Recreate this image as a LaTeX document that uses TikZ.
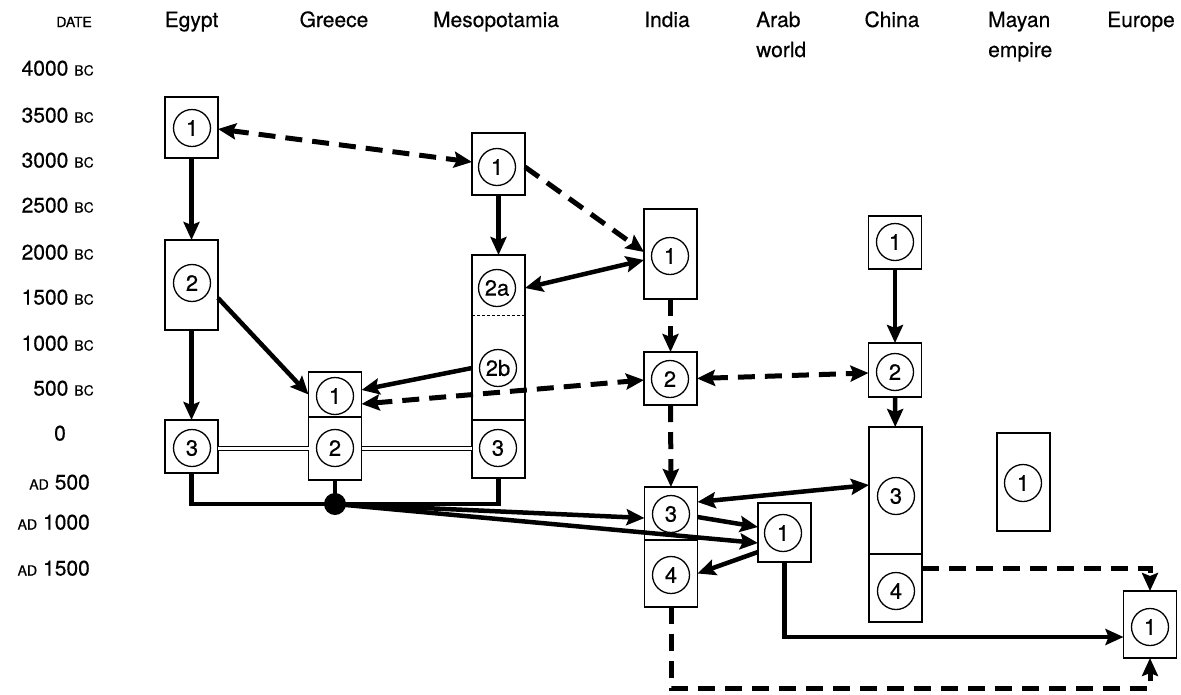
\documentclass[tikz,border=0pt]{standalone}
\usepackage{fontspec}
\setmainfont{TeX Gyre Heros}[FakeBold=0.5]
\usetikzlibrary{arrows.meta}
\newcommand\dBC{\hspace{6pt}{\fontsize{14}{14}\selectfont BC}}
\newcommand\dAD{{\fontsize{14}{14}\selectfont AD}\hspace{6pt}}
\begin{document}
\begin{tikzpicture}[x=1pt,y=-1pt,
 box/.style={draw,line width=1.3pt,minimum width=53pt,inner sep=0pt,outer sep=0pt},
 num/.style={draw,circle,line width=1.3pt,minimum size=37pt,inner sep=0pt,font=\fontsize{22}{22}\selectfont},
 hdr/.style={font=\fontsize{21}{21}\selectfont,inner sep=0pt},
 dlab/.style={font=\fontsize{21}{21}\selectfont,inner sep=0pt,anchor=base east},
 sol/.style={line width=4.5pt},
 dsh/.style={line width=5pt,dash pattern=on 17pt off 10pt},
 dbl/.style={line width=1.3pt,double distance=2.6pt},
 >={Stealth[length=18pt,width=16pt,inset=3pt]}]
\useasboundingbox (0,0) rectangle (1181,694);

% headers
\node[inner sep=0pt,anchor=base east,font=\fontsize{14}{14}\selectfont] (hDate) at (92,27) {DATE};
\node[hdr,anchor=base] (hEgypt) at (191.5,27) {Egypt};
\node[hdr,anchor=base] (hGreece) at (334,27) {Greece};
\node[hdr,anchor=base] (hMeso) at (496,27) {Mesopotamia};
\node[hdr,anchor=base] (hIndia) at (667,27) {India};
\node[hdr,anchor=base west] (hArab) at (756,27) {Arab};
\node[hdr,anchor=base west] (hWorld) at (756,57) {world};
\node[hdr,anchor=base] (hChina) at (892,27) {China};
\node[hdr,anchor=base west] (hMayan) at (988,27) {Mayan};
\node[hdr,anchor=base west] (hEmpire) at (988,57) {empire};
\node[hdr,anchor=base] (hEurope) at (1141,27) {Europe};

% dates
\node[dlab] (d1) at (94,75.5) {4000\dBC};
\node[dlab] (d2) at (94,122.5) {3500\dBC};
\node[dlab] (d3) at (94,167.5) {3000\dBC};
\node[dlab] (d4) at (94,212.5) {2500\dBC};
\node[dlab] (d5) at (94,259.5) {2000\dBC};
\node[dlab] (d6) at (94,304.5) {1500\dBC};
\node[dlab] (d7) at (94,350.5) {1000\dBC};
\node[dlab] (d8) at (94,395.5) {500\dBC};
\node[dlab,anchor=base] (d9) at (60,440.5) {0};
\node[dlab] (d10) at (90,489.5) {\dAD500};
\node[dlab] (d11) at (90,529.5) {\dAD1000};
\node[dlab] (d12) at (90,575.5) {\dAD1500};

% boxes
\node[box,minimum height=61pt] (e1) at (191.5,127.5) {};
\node[box,minimum height=90pt] (e2) at (191.5,285) {};
\node[box,minimum height=53pt] (e3) at (191.5,446.5) {};
\node[box,minimum height=45pt] (g1) at (335,394.5) {};
\node[box,minimum height=63pt] (g2) at (335,448.5) {};
\node[box,minimum height=62pt] (m1) at (498.5,164) {};
\node[box,minimum height=165pt] (m2) at (498.5,337.5) {};
\node[box,minimum height=58pt] (m3) at (498.5,449) {};
\draw[line width=1pt,dash pattern=on 3pt off 2pt] ([yshift=-60pt]m2.north west) -- ([yshift=-60pt]m2.north east);
\node[box,minimum height=90pt] (i1) at (670.5,254) {};
\node[box,minimum height=53pt] (i2) at (670.5,378.5) {};
\node[box,minimum height=53pt] (i3) at (671,513.5) {};
\node[box,minimum height=67pt] (i4) at (671,573.5) {};
\node[box,minimum height=59pt] (a1) at (784.5,532.5) {};
\node[box,minimum height=53pt] (c1) at (895,242.5) {};
\node[box,minimum height=54pt] (c2) at (895,370) {};
\node[box,minimum height=127pt] (c3) at (895.5,490.5) {};
\node[box,minimum height=68pt] (c4) at (895.5,588) {};
\node[box,minimum height=98pt] (y1) at (1023.5,482) {};
\node[box,minimum height=67pt] (eu) at (1150,624.5) {};

% numbers
\node[num] (e1n) at (192,128) {1};
\node[num] (e2n) at (192,283) {2};
\node[num] (e3n) at (192,448) {3};
\node[num] (g1n) at (335,396) {1};
\node[num] (g2n) at (335,448) {2};
\node[num] (m1n) at (497,167) {1};
\node[num] (m2a) at (497,288) {2a};
\node[num] (m2b) at (498,368) {2b};
\node[num] (m3n) at (498,448) {3};
\node[num] (i1n) at (670,256) {1};
\node[num] (i2n) at (670,379) {2};
\node[num] (i3n) at (671,514) {3};
\node[num] (i4n) at (671,575) {4};
\node[num] (a1n) at (783,533) {1};
\node[num] (c1n) at (895,242) {1};
\node[num] (c2n) at (895,372) {2};
\node[num] (c3n) at (896,496) {3};
\node[num] (c4n) at (896,591) {4};
\node[num] (y1n) at (1023,483) {1};
\node[num] (eun) at (1150,627) {1};

% connectors
\draw[dsh,<->] ([yshift=-1.5pt]e1.east) -- ([yshift=2pt]m1.west);
\draw[sol,->] (e1) -- (e2);
\draw[sol,->] (e2) -- (e3);
\draw[sol,->] ([yshift=-13pt]e2.east) -- (g1.west);
\draw[sol,->] (m1) -- (m2);
\draw[dsh,->] ([yshift=-3pt]m1.east) -- ([yshift=2pt]i1.west);
\draw[sol,<->] ([yshift=-6pt]i1.west) -- (m2.east |- m2a);
\draw[sol,->] (m2.west |- m2b) -- ([yshift=4.5pt]g1.east);
\draw[dsh,<->] ([yshift=-9.5pt]g1.east) -- ([yshift=-1.5pt]i2.west);
\draw[dsh,->] (i1) -- (i2);
\draw[dsh,<->] (i2.east) -- ([yshift=-3pt]c2.west);
\draw[sol,->] (c1) -- (c2);
\draw[sol,->] (c2) -- (c3);
\draw[dsh,->] (i2) -- (i3);
\draw[dbl] ([yshift=-2pt]e3.east) -- ([yshift=-2pt]g2.west |- e3.east);
\draw[dbl] ([yshift=-2pt]g2.east |- e3.east) -- ([yshift=-2pt]m3.west |- e3.east);
\node[circle,fill,minimum size=22pt,inner sep=0pt] (dot) at (335,504) {};
\draw[sol] (e3.south) |- (dot.center) -| (m3.south);
\draw[sol] (g2.south) -- (dot.center);
\draw[sol,->] (dot.center) -- ([yshift=-4.5pt]i3.west);
\draw[sol,->] (dot.center) -- ([yshift=-10.5pt]a1.west);
\draw[sol,->] ([yshift=-3.5pt]i3.east) -- ([yshift=5.5pt]a1.west);
\draw[sol,->] ([yshift=-19.5pt]a1.west) -- (i4.east);
\draw[sol,<->] ([yshift=11.5pt]i3.east) -- ([yshift=5.5pt]c3.west);
\draw[sol,->] (a1.south) |- ([yshift=-12.5pt]eu.west);
\draw[dsh,->] ([yshift=20pt]c4.east) -| (eu.north);
\coordinate (ebot) at (1150,688);
\draw[dsh,->] (i4.south) |- (ebot) -- (eu.south);
\end{tikzpicture}
\end{document}
